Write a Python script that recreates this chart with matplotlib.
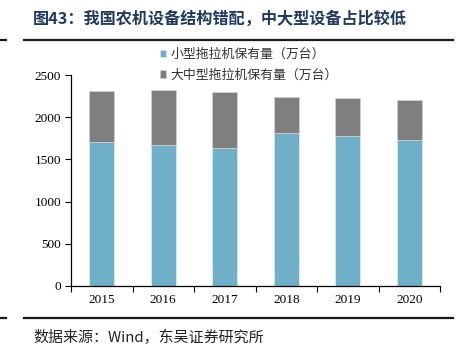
import matplotlib
matplotlib.use("Agg")
import matplotlib.pyplot as plt
from matplotlib.lines import Line2D
import numpy as np

years = ["2015", "2016", "2017", "2018", "2019", "2020"]
small = [1703, 1672, 1634, 1818, 1780, 1728]
large = [607, 645, 670, 422, 444, 477]
series_names = ["小型拖拉机保有量（万台）", "大中型拖拉机保有量（万台）"]
yticks = [0, 500, 1000, 1500, 2000, 2500]

cjk = ["Noto Sans CJK SC", "DejaVu Sans"]
serif = ["Liberation Serif", "DejaVu Serif"]

W, H = 465, 359
fig = plt.figure(figsize=(W / 100, H / 100), dpi=100)
ax = fig.add_axes([71 / W, 1 - 286 / H, (440 - 71) / W, (286 - 75) / H])

x = np.arange(len(years))
c_small = "#70AFC8"
c_large = "#7F7F7F"
b1 = ax.bar(x, small, width=0.4, color=c_small, edgecolor="#d8e8ee", linewidth=0.6)
b2 = ax.bar(x, large, bottom=small, width=0.4, color=c_large, edgecolor="#cfcfcf", linewidth=0.6)

ax.set_xlim(-0.5, len(years) - 0.5)
ax.set_ylim(0, 2500)
ax.set_yticks(yticks)
ax.set_yticklabels([str(v) for v in yticks], family=serif, fontsize=9.5)
ax.set_xticks(x)
ax.set_xticklabels(years, family=serif, fontsize=9.5)
ax.set_xticks(np.arange(len(years) + 1) - 0.5, minor=True)
ax.tick_params(axis="x", which="major", length=0, pad=6)
ax.tick_params(axis="x", which="minor", length=4, direction="out", width=0.8)
ax.tick_params(axis="y", length=4, direction="out", width=0.8, pad=3)
for s in ["top", "right"]:
    ax.spines[s].set_visible(False)
for s in ["left", "bottom"]:
    ax.spines[s].set_linewidth(0.9)
    ax.spines[s].set_color("black")

leg = fig.legend([b1, b2], series_names, loc="upper left",
                 bbox_to_anchor=(160 / W, 1 - 48 / H),
                 prop={"family": cjk, "size": 9.3}, frameon=False,
                 handlelength=0.5, handleheight=0.5, handletextpad=0.3,
                 labelspacing=0.6, borderaxespad=0, borderpad=0)
for t in leg.get_texts():
    t.set_color("#333333")

fig.text(33 / W, 1 - 19 / H, "图43：我国农机设备结构错配，中大型设备占比较低",
         family=cjk, fontsize=11.6, fontweight="bold", color="#1F3A5F",
         va="center", ha="left")
for yy in [39.5, 318]:
    fig.add_artist(Line2D([24 / W, 453 / W], [1 - yy / H] * 2, color="#1a1a1a", lw=1.6))
    fig.add_artist(Line2D([0, 6 / W], [1 - yy / H] * 2, color="#1a1a1a", lw=1.6))
fig.text(33 / W, 1 - 337 / H, "数据来源：Wind，东吴证券研究所",
         family=cjk, fontsize=10.8, color="#222222", va="center", ha="left")

fig.savefig("out.png", dpi=100)
